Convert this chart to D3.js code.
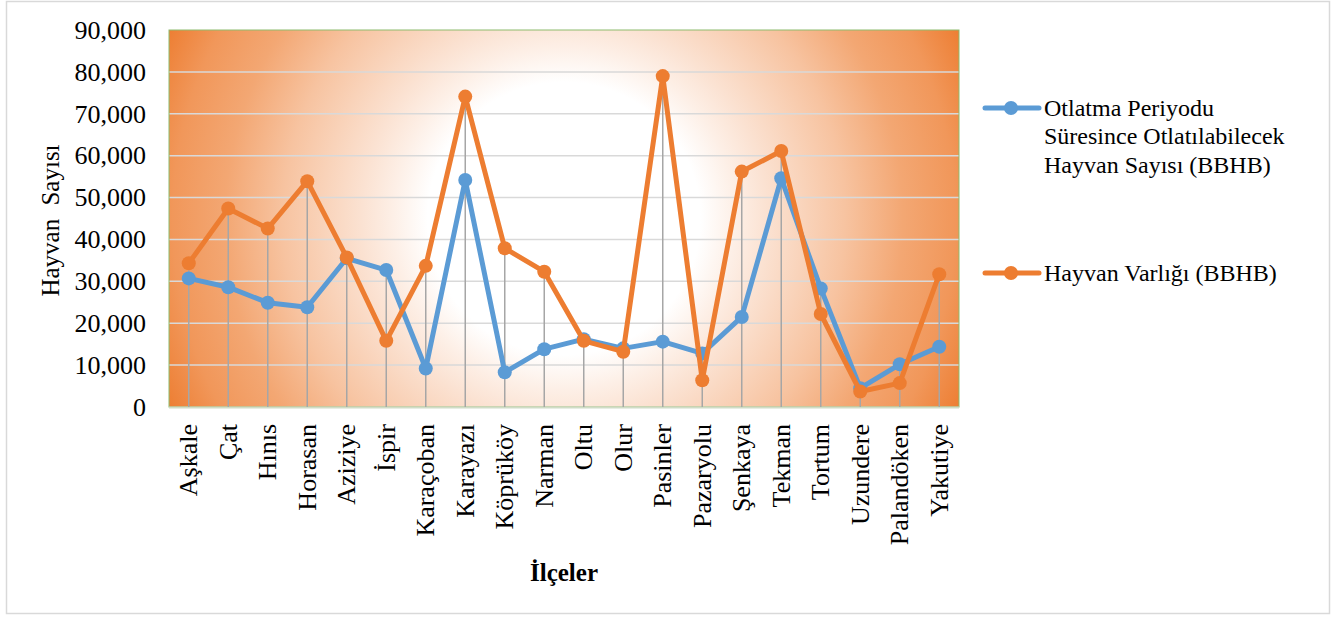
<!DOCTYPE html>
<html>
<head>
<meta charset="utf-8">
<script src="https://cdn.jsdelivr.net/npm/d3@7"></script>
<style>
  html, body { margin: 0; padding: 0; background: #fff; }
  svg { display: block; }
</style>
</head>
<body>
<svg id="chart" width="1336" height="618"></svg>
<script>
// Districts (ilçeler) of Erzurum
const districts = ["Aşkale", "Çat", "Hınıs", "Horasan", "Aziziye", "İspir", "Karaçoban", "Karayazı",
  "Köprüköy", "Narman", "Oltu", "Olur", "Pasinler", "Pazaryolu", "Şenkaya", "Tekman", "Tortum",
  "Uzundere", "Palandöken", "Yakutiye"];

// Animals that can be grazed during the grazing period (BBHB)
const grazingCapacity = [30700, 28600, 24900, 23800, 35500, 32700, 9200, 54200, 8300, 13800,
  16200, 14000, 15600, 12800, 21500, 54600, 28300, 4500, 10200, 14400];

// Existing livestock (BBHB)
const livestock = [34300, 47400, 42600, 53900, 35700, 15800, 33700, 74100, 37900, 32300,
  15800, 13200, 79000, 6400, 56200, 61100, 22200, 3700, 5700, 31700];

const yTicks = [0, 10000, 20000, 30000, 40000, 50000, 60000, 70000, 80000, 90000];

const seriesColors = ["#5B9BD5", "#ED7D31"];
const FONT = "'Liberation Serif', Tinos, 'Times New Roman', serif";

const svg = d3.select("#chart");
const plot = { left: 169, right: 959, top: 30, bottom: 407 };

// outer chart frame
svg.append("rect")
  .attr("x", 6.5).attr("y", 1.5).attr("width", 1323).attr("height", 612)
  .attr("fill", "#fff").attr("stroke", "#d9d9d9").attr("stroke-width", 1.5);

const x = d3.scaleBand().domain(districts).range([plot.left, plot.right]);
const y = d3.scaleLinear().domain([0, 90000]).range([plot.bottom, plot.top]);

// plot area fill: white centre fading out to orange
const defs = svg.append("defs");
const cx = (plot.left + plot.right) / 2, cy = (plot.top + plot.bottom) / 2;
const grad = defs.append("radialGradient")
  .attr("id", "plotFill")
  .attr("gradientUnits", "userSpaceOnUse")
  .attr("cx", cx).attr("cy", cy).attr("r", 440);
const toOrange = d3.interpolateRgb("#ffffff", "#ED7D31");
[[0, 0], [0.31, 0], [0.39, 0.12], [0.46, 0.22], [0.64, 0.46], [0.77, 0.68], [0.89, 0.8], [1, 1]]
  .forEach(([o, f]) => grad.append("stop").attr("offset", o).attr("stop-color", toOrange(f)));

svg.append("rect")
  .attr("x", plot.left).attr("y", plot.top)
  .attr("width", plot.right - plot.left).attr("height", plot.bottom - plot.top)
  .attr("fill", "url(#plotFill)");

// horizontal gridlines
svg.append("g")
  .selectAll("line")
  .data(yTicks.filter(t => t > 0 && t < 90000))
  .join("line")
  .attr("x1", plot.left).attr("x2", plot.right)
  .attr("y1", d => y(d)).attr("y2", d => y(d))
  .attr("stroke", "#d9d9d9").attr("stroke-width", 1.5);

// plot border
svg.append("rect")
  .attr("x", plot.left).attr("y", plot.top)
  .attr("width", plot.right - plot.left).attr("height", plot.bottom - plot.top)
  .attr("fill", "none").attr("stroke", "#8DBB6E").attr("stroke-width", 1);

// baseline
svg.append("line")
  .attr("x1", plot.left).attr("x2", plot.right)
  .attr("y1", y(0) + 0.5).attr("y2", y(0) + 0.5)
  .attr("stroke", "#CFDCC6").attr("stroke-width", 2);

// drop lines from the higher point down to the axis
const xc = d => x(d) + x.bandwidth() / 2;
svg.append("g")
  .selectAll("line")
  .data(districts)
  .join("line")
  .attr("x1", d => xc(d)).attr("x2", d => xc(d))
  .attr("y1", (d, i) => y(Math.max(grazingCapacity[i], livestock[i])))
  .attr("y2", y(0))
  .attr("stroke", "#a6a6a6").attr("stroke-width", 1.5);

// y axis labels
const yAxis = d3.axisLeft(y).tickValues(yTicks).tickFormat(d3.format(",")).tickSize(0).tickPadding(23);
const gy = svg.append("g").attr("transform", `translate(${plot.left},0)`).call(yAxis)
  .attr("font-family", FONT).attr("font-size", 26);
gy.select(".domain").remove();
gy.selectAll("text").attr("fill", "#000");

// x axis labels, rotated
const xAxis = d3.axisBottom(x).tickSize(0).tickPadding(0);
const gx = svg.append("g").attr("transform", `translate(0,${plot.bottom})`).call(xAxis)
  .attr("font-family", FONT).attr("font-size", 26);
gx.select(".domain").remove();
gx.selectAll("text")
  .attr("fill", "#000")
  .attr("text-anchor", "end")
  .attr("transform", "rotate(-90)")
  .attr("x", -17).attr("y", 0).attr("dy", "0.33em");

// series lines and markers
const series = [grazingCapacity, livestock];
series.forEach((vals, s) => {
  const line = d3.line().x((d, i) => xc(districts[i])).y(d => y(d));
  svg.append("path")
    .attr("d", line(vals))
    .attr("fill", "none").attr("stroke", seriesColors[s])
    .attr("stroke-width", 5).attr("stroke-linejoin", "round");
  svg.append("g")
    .selectAll("circle")
    .data(vals)
    .join("circle")
    .attr("cx", (d, i) => xc(districts[i]))
    .attr("cy", d => y(d))
    .attr("r", 7)
    .attr("fill", seriesColors[s]);
});

// axis titles
svg.append("text")
  .attr("transform", `translate(59,${cy + 2}) rotate(-90)`)
  .attr("text-anchor", "middle")
  .attr("font-family", FONT).attr("font-size", 25)
  .attr("word-spacing", 7)
  .text("Hayvan Sayısı");

svg.append("text")
  .attr("x", cx).attr("y", 581)
  .attr("text-anchor", "middle")
  .attr("font-family", FONT).attr("font-size", 25).attr("font-weight", "bold")
  .text("İlçeler");

// legend
const legend = [
  { lines: ["Otlatma Periyodu", "Süresince Otlatılabilecek", "Hayvan Sayısı (BBHB)"], y: 108, color: seriesColors[0] },
  { lines: ["Hayvan Varlığı (BBHB)"], y: 273, color: seriesColors[1] }
];
legend.forEach(item => {
  const g = svg.append("g");
  g.append("line")
    .attr("x1", 985).attr("x2", 1039).attr("y1", item.y).attr("y2", item.y)
    .attr("stroke", item.color).attr("stroke-width", 5).attr("stroke-linecap", "round");
  g.append("circle").attr("cx", 1011).attr("cy", item.y).attr("r", 7).attr("fill", item.color);
  item.lines.forEach((t, k) => {
    g.append("text")
      .attr("x", 1044).attr("y", item.y + 7.5 + k * 28.5)
      .attr("font-family", FONT).attr("font-size", 24)
      .text(t);
  });
});
</script>
</body>
</html>
